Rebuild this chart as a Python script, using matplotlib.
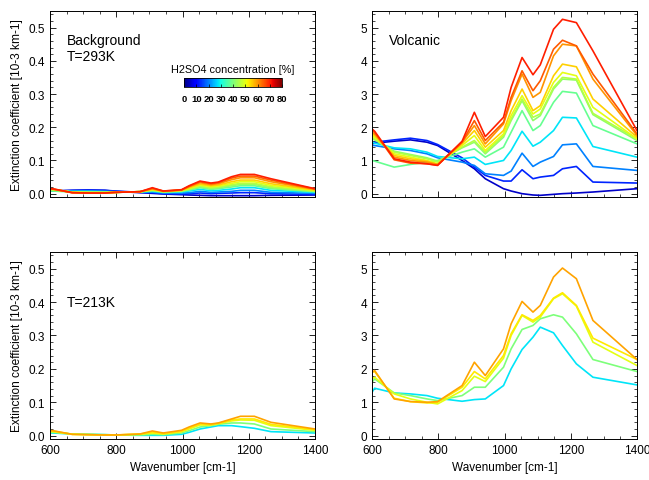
import matplotlib
matplotlib.use("Agg")
import matplotlib.pyplot as plt
import numpy as np
from matplotlib.ticker import MultipleLocator, FormatStrFormatter
from matplotlib.colors import Normalize
import matplotlib.cm as cm
from matplotlib.colorbar import ColorbarBase

plt.rcParams["font.family"] = ["Liberation Sans", "DejaVu Sans"]

# wavenumber grid [cm-1]
wn = [600, 608, 667, 716, 766, 798, 872, 909, 942, 997, 1020,
      1053, 1086, 1108, 1148, 1175, 1217, 1267, 1400]

# H2SO4 concentration [%] of each curve
conc_293 = [5, 13, 20, 28, 38, 42, 45, 50, 55, 60, 65, 70]
conc_213 = [28, 40, 50, 53, 59]

# background, T=293K
bg_293 = [
    [0.008, 0.008, 0.010, 0.011, 0.010, 0.007, 0.003, 0.001, -0.001, -0.003, -0.004, -0.005, -0.006, -0.006, -0.006, -0.006, -0.006, -0.005, -0.004],
    [0.008, 0.008, 0.010, 0.011, 0.010, 0.008, 0.004, 0.003, 0.000, -0.001, 0.000, 0.002, 0.000, 0.001, 0.002, 0.003, 0.003, 0.000, -0.002],
    [0.009, 0.009, 0.008, 0.008, 0.007, 0.006, 0.005, 0.005, 0.002, 0.002, 0.003, 0.007, 0.004, 0.005, 0.007, 0.010, 0.010, 0.004, 0.001],
    [0.010, 0.010, 0.007, 0.007, 0.006, 0.005, 0.005, 0.007, 0.004, 0.005, 0.008, 0.013, 0.009, 0.010, 0.014, 0.018, 0.018, 0.010, 0.004],
    [0.008, 0.008, 0.005, 0.005, 0.005, 0.004, 0.006, 0.009, 0.005, 0.007, 0.011, 0.018, 0.013, 0.015, 0.020, 0.024, 0.024, 0.015, 0.006],
    [0.012, 0.012, 0.005, 0.004, 0.004, 0.004, 0.006, 0.010, 0.006, 0.008, 0.013, 0.021, 0.016, 0.018, 0.024, 0.028, 0.028, 0.018, 0.007],
    [0.012, 0.012, 0.005, 0.004, 0.004, 0.004, 0.006, 0.011, 0.006, 0.009, 0.014, 0.023, 0.018, 0.020, 0.027, 0.031, 0.031, 0.021, 0.008],
    [0.013, 0.013, 0.004, 0.003, 0.003, 0.004, 0.006, 0.012, 0.007, 0.010, 0.016, 0.026, 0.021, 0.023, 0.031, 0.036, 0.036, 0.025, 0.010],
    [0.013, 0.013, 0.004, 0.003, 0.003, 0.004, 0.006, 0.013, 0.007, 0.010, 0.018, 0.029, 0.024, 0.026, 0.036, 0.041, 0.041, 0.030, 0.011],
    [0.014, 0.014, 0.003, 0.002, 0.002, 0.004, 0.006, 0.015, 0.007, 0.011, 0.021, 0.033, 0.027, 0.030, 0.042, 0.048, 0.048, 0.036, 0.013],
    [0.014, 0.014, 0.003, 0.002, 0.002, 0.004, 0.006, 0.016, 0.008, 0.011, 0.022, 0.036, 0.030, 0.033, 0.047, 0.053, 0.053, 0.041, 0.014],
    [0.015, 0.015, 0.003, 0.002, 0.002, 0.004, 0.006, 0.018, 0.008, 0.012, 0.024, 0.038, 0.032, 0.035, 0.051, 0.058, 0.058, 0.045, 0.015],
]

# volcanic, T=293K
volc_293 = [
    [1.50, 1.52, 1.58, 1.62, 1.55, 1.45, 1.00, 0.75, 0.45, 0.15, 0.08, 0.00, -0.04, -0.05, -0.02, 0.00, 0.02, 0.05, 0.15],
    [1.52, 1.55, 1.62, 1.67, 1.60, 1.48, 1.08, 0.80, 0.55, 0.38, 0.38, 0.72, 0.45, 0.50, 0.55, 0.75, 0.82, 0.35, 0.32],
    [1.45, 1.45, 1.35, 1.30, 1.20, 1.08, 0.95, 0.85, 0.60, 0.55, 0.68, 1.22, 0.82, 0.95, 1.12, 1.47, 1.50, 0.82, 0.70],
    [1.55, 1.52, 1.38, 1.35, 1.25, 1.12, 1.05, 1.10, 0.88, 1.00, 1.30, 1.88, 1.43, 1.55, 1.90, 2.30, 2.28, 1.42, 1.10],
    [1.00, 0.98, 0.80, 0.88, 0.95, 1.00, 1.25, 1.35, 1.10, 1.40, 1.85, 2.50, 1.90, 2.05, 2.75, 3.08, 3.03, 2.05, 1.50],
    [1.65, 1.62, 1.28, 1.18, 1.08, 0.98, 1.38, 1.55, 1.20, 1.70, 2.20, 2.80, 2.20, 2.35, 3.15, 3.45, 3.42, 2.38, 1.60],
    [1.70, 1.65, 1.25, 1.15, 1.05, 0.95, 1.40, 1.60, 1.25, 1.75, 2.25, 2.85, 2.30, 2.40, 3.20, 3.50, 3.45, 2.42, 1.65],
    [1.75, 1.70, 1.20, 1.10, 1.00, 0.90, 1.45, 1.75, 1.30, 1.80, 2.35, 2.95, 2.40, 2.55, 3.35, 3.65, 3.55, 2.60, 1.65],
    [1.80, 1.75, 1.15, 1.05, 0.98, 0.88, 1.50, 1.90, 1.40, 1.90, 2.50, 3.15, 2.50, 2.65, 3.55, 3.90, 3.82, 2.85, 1.70],
    [1.85, 1.80, 1.10, 1.00, 0.95, 0.88, 1.55, 2.05, 1.50, 2.10, 2.80, 3.60, 2.90, 3.05, 4.15, 4.50, 4.45, 3.45, 1.75],
    [1.90, 1.85, 1.02, 0.92, 0.90, 0.86, 1.55, 2.20, 1.60, 2.15, 2.90, 3.70, 3.10, 3.40, 4.35, 4.62, 4.45, 3.60, 1.80],
    [1.95, 1.88, 1.05, 0.95, 0.90, 0.85, 1.58, 2.45, 1.72, 2.30, 3.20, 4.10, 3.58, 3.88, 4.95, 5.25, 5.15, 4.30, 1.90],
]

# background, T=213K
bg_213 = [
    [0.008, 0.008, 0.005, 0.004, 0.003, 0.002, 0.001, 0.001, 0.001, 0.004, 0.010, 0.020, 0.026, 0.030, 0.030, 0.027, 0.022, 0.012, 0.008],
    [0.010, 0.010, 0.005, 0.004, 0.003, 0.002, 0.002, 0.004, 0.003, 0.008, 0.015, 0.026, 0.030, 0.034, 0.038, 0.038, 0.035, 0.020, 0.012],
    [0.012, 0.012, 0.004, 0.003, 0.002, 0.002, 0.004, 0.008, 0.005, 0.012, 0.020, 0.032, 0.032, 0.036, 0.044, 0.047, 0.046, 0.030, 0.016],
    [0.014, 0.014, 0.004, 0.003, 0.002, 0.002, 0.005, 0.010, 0.006, 0.013, 0.022, 0.034, 0.033, 0.037, 0.047, 0.050, 0.050, 0.034, 0.018],
    [0.015, 0.015, 0.004, 0.003, 0.002, 0.002, 0.005, 0.014, 0.008, 0.016, 0.026, 0.038, 0.035, 0.038, 0.050, 0.058, 0.058, 0.040, 0.020],
]

# volcanic, T=213K
volc_213 = [
    [1.30, 1.42, 1.28, 1.25, 1.20, 1.12, 1.03, 1.08, 1.10, 1.50, 2.00, 2.58, 2.95, 3.25, 3.08, 2.70, 2.15, 1.75, 1.52],
    [1.60, 1.70, 1.28, 1.20, 1.10, 1.05, 1.20, 1.45, 1.45, 2.05, 2.60, 3.18, 3.30, 3.50, 3.62, 3.55, 3.05, 2.28, 1.92],
    [1.70, 1.75, 1.25, 1.10, 1.00, 0.95, 1.35, 1.78, 1.62, 2.32, 3.00, 3.60, 3.40, 3.55, 4.10, 4.25, 3.88, 2.80, 2.10],
    [1.90, 1.92, 1.12, 1.02, 0.98, 1.00, 1.45, 1.92, 1.70, 2.40, 3.05, 3.62, 3.45, 3.60, 4.12, 4.28, 3.90, 2.92, 2.28],
    [1.90, 1.95, 1.10, 1.02, 1.00, 1.02, 1.50, 2.20, 1.80, 2.60, 3.35, 4.02, 3.70, 3.90, 4.75, 5.02, 4.70, 3.45, 2.28],
]

cmap = plt.get_cmap("jet")
norm = Normalize(0, 80)

W, H = 649, 481
fig = plt.figure(figsize=(W / 100, H / 100), dpi=100)


def box(l, t, r, b):
    return [l / W, 1 - b / H, (r - l) / W, (b - t) / H]


ax_tl = fig.add_axes(box(50, 12, 315, 198))
ax_tr = fig.add_axes(box(372, 12, 637, 198))
ax_bl = fig.add_axes(box(50, 253, 315, 440))
ax_br = fig.add_axes(box(372, 253, 637, 440))

panels = [
    (ax_tl, conc_293, bg_293, (-0.01, 0.55), 0.1, True),
    (ax_tr, conc_293, volc_293, (-0.1, 5.5), 1, False),
    (ax_bl, conc_213, bg_213, (-0.01, 0.55), 0.1, True),
    (ax_br, conc_213, volc_213, (-0.1, 5.5), 1, False),
]

for ax, concs, curves, ylim, ystep, small in panels:
    for c, y in zip(concs, curves):
        ax.plot(wn, y, color=cmap(norm(c)), lw=1.2)
    ax.set_xlim(600, 1400)
    ax.set_ylim(*ylim)
    ax.xaxis.set_major_locator(MultipleLocator(200))
    ax.xaxis.set_minor_locator(MultipleLocator(50))
    ax.yaxis.set_major_locator(MultipleLocator(ystep))
    ax.yaxis.set_minor_locator(MultipleLocator(ystep / 5))
    if small:
        ax.yaxis.set_major_formatter(FormatStrFormatter("%.1f"))
        ax.set_ylabel("Extinction coefficient [10-3 km-1]", fontsize=8.6)
    ax.tick_params(which="both", direction="in", top=True, right=True,
                   labelsize=8.5)
    ax.tick_params(which="major", length=4, width=0.6)
    ax.tick_params(which="minor", length=2, width=0.5)
    for s in ax.spines.values():
        s.set_linewidth(0.7)

for ax in (ax_tl, ax_tr):
    ax.tick_params(labelbottom=False)
for ax in (ax_bl, ax_br):
    ax.set_xlabel("Wavenumber [cm-1]", fontsize=8.5)

ax_tl.text(0.065, 0.88, "Background\nT=293K", transform=ax_tl.transAxes,
           fontsize=10, va="top", linespacing=1.15)
ax_tr.text(0.065, 0.88, "Volcanic", transform=ax_tr.transAxes,
           fontsize=10, va="top")
ax_bl.text(0.065, 0.77, "T=213K", transform=ax_bl.transAxes,
           fontsize=10, va="top")

# colour bar for the concentration
cax = fig.add_axes(box(184, 79, 282, 88))
cb = ColorbarBase(cax, cmap=cmap, norm=norm, orientation="horizontal")
cb.set_ticks(range(0, 81, 10))
cb.ax.tick_params(direction="in", length=2, width=0.5, labelsize=6.8, pad=5)
for lab in cb.ax.get_xticklabels():
    lab.set_fontweight("bold")
cb.outline.set_linewidth(0.6)
cax.set_title("H2SO4 concentration [%]", fontsize=7.8, pad=4)

fig.savefig("out.png", dpi=100)
